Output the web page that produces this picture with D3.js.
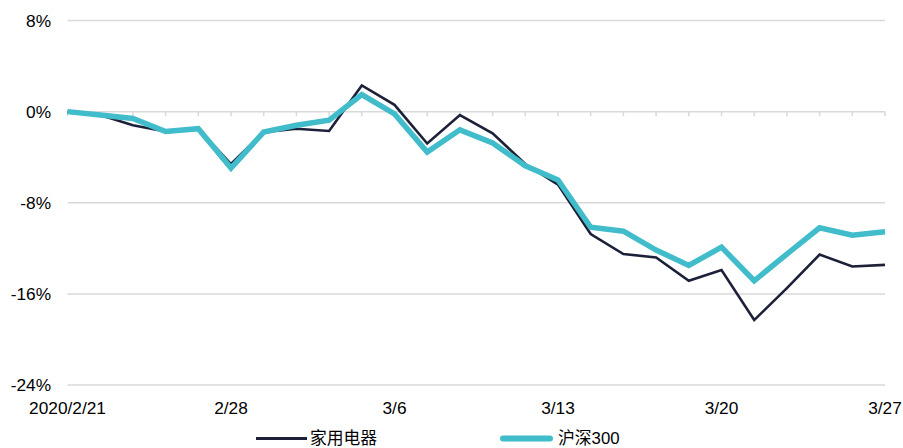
<!DOCTYPE html>
<html>
<head>
<meta charset="utf-8">
<script src="https://cdn.jsdelivr.net/npm/d3@7"></script>
<style>
  html, body { margin: 0; padding: 0; background: #fff; }
  svg { display: block; }
  text { font-family: "Liberation Sans", Arial, "Noto Sans CJK SC", sans-serif; fill: #000; }
</style>
</head>
<body>
<svg id="chart" width="903" height="448"></svg>
<script>
// Trading days from 2020/2/21 to 3/27
const dates = ["2/21","2/24","2/25","2/26","2/27","2/28","3/2","3/3","3/4","3/5","3/6",
  "3/9","3/10","3/11","3/12","3/13","3/16","3/17","3/18","3/19","3/20",
  "3/23","3/24","3/25","3/26","3/27"];

// Cumulative change, %
const appliance = [0, -0.3, -1.2, -1.75, -1.5, -4.6, -1.8, -1.5, -1.7, 2.3, 0.6,
  -2.8, -0.3, -1.9, -4.6, -6.4, -10.75, -12.5, -12.8, -14.85, -13.9,
  -18.3, -15.5, -12.55, -13.6, -13.45];
const csi300 = [0, -0.3, -0.6, -1.75, -1.5, -4.95, -1.8, -1.2, -0.75, 1.5, -0.2,
  -3.55, -1.6, -2.75, -4.75, -6.0, -10.15, -10.5, -12.15, -13.5, -11.9,
  -14.85, -12.5, -10.2, -10.85, -10.55];

// Axis labels
const yTicks = [8, 0, -8, -16, -24];
const xTickDates = ["2/21", "2/28", "3/6", "3/13", "3/20", "3/27"];
const xTickLabels = ["2020/2/21", "2/28", "3/6", "3/13", "3/20", "3/27"];

const seriesNames = ["家用电器", "沪深300"];
const colors = ["#1c2139", "#41bccb"];
const widths = [2.6, 5.5];

const svg = d3.select("#chart");
const left = 67.5, right = 885;
const x = d3.scalePoint().domain(dates).range([left, right]);
const y = d3.scaleLinear().domain([-24, 8]).range([385, 20.5]);

// Horizontal gridlines
svg.append("g").selectAll("line").data(yTicks.filter(d => d !== 0)).join("line")
  .attr("x1", left).attr("x2", right)
  .attr("y1", d => y(d)).attr("y2", d => y(d))
  .attr("stroke", "#d9d9d9").attr("stroke-width", 1.5);

// Zero baseline with category ticks
svg.append("line")
  .attr("x1", left).attr("x2", right)
  .attr("y1", y(0)).attr("y2", y(0))
  .attr("stroke", "#d9d9d9").attr("stroke-width", 1.5);
svg.append("g").selectAll("line").data(dates).join("line")
  .attr("x1", d => x(d)).attr("x2", d => x(d))
  .attr("y1", y(0)).attr("y2", y(0) + 4.5)
  .attr("stroke", "#d9d9d9").attr("stroke-width", 1.5);

// Y labels
svg.append("g").selectAll("text").data(yTicks).join("text")
  .attr("x", 51).attr("y", d => y(d))
  .attr("dy", "0.36em")
  .attr("text-anchor", "end")
  .attr("font-size", 17.3)
  .text(d => d + "%");

// X labels
svg.append("g").selectAll("text").data(xTickDates).join("text")
  .attr("x", d => x(d)).attr("y", 414)
  .attr("text-anchor", "middle")
  .attr("font-size", 17.3)
  .text((d, i) => xTickLabels[i]);

// Lines
const line = d3.line().x((d, i) => x(dates[i])).y(d => y(d));
[appliance, csi300].forEach((s, k) => {
  svg.append("path").datum(s)
    .attr("d", line)
    .attr("fill", "none")
    .attr("stroke", colors[k])
    .attr("stroke-width", widths[k])
    .attr("stroke-linejoin", "miter")
    .attr("stroke-miterlimit", 4);
});

// Legend
const legendX = [256, 500];
const leg = svg.append("g").selectAll("g").data(seriesNames).join("g")
  .attr("transform", (d, i) => `translate(${legendX[i]},438.5)`);
leg.append("line")
  .attr("x1", (d, i) => i === 1 ? 3 : 0)
  .attr("x2", (d, i) => i === 1 ? 50 : 51)
  .attr("stroke", (d, i) => colors[i])
  .attr("stroke-width", (d, i) => i === 1 ? 6 : 2.8)
  .attr("stroke-linecap", (d, i) => i === 1 ? "round" : "butt");
leg.append("text")
  .attr("x", (d, i) => i === 1 ? 58 : 54)
  .attr("dy", "0.34em")
  .attr("font-size", 16.8)
  .text(d => d);
</script>
</body>
</html>
